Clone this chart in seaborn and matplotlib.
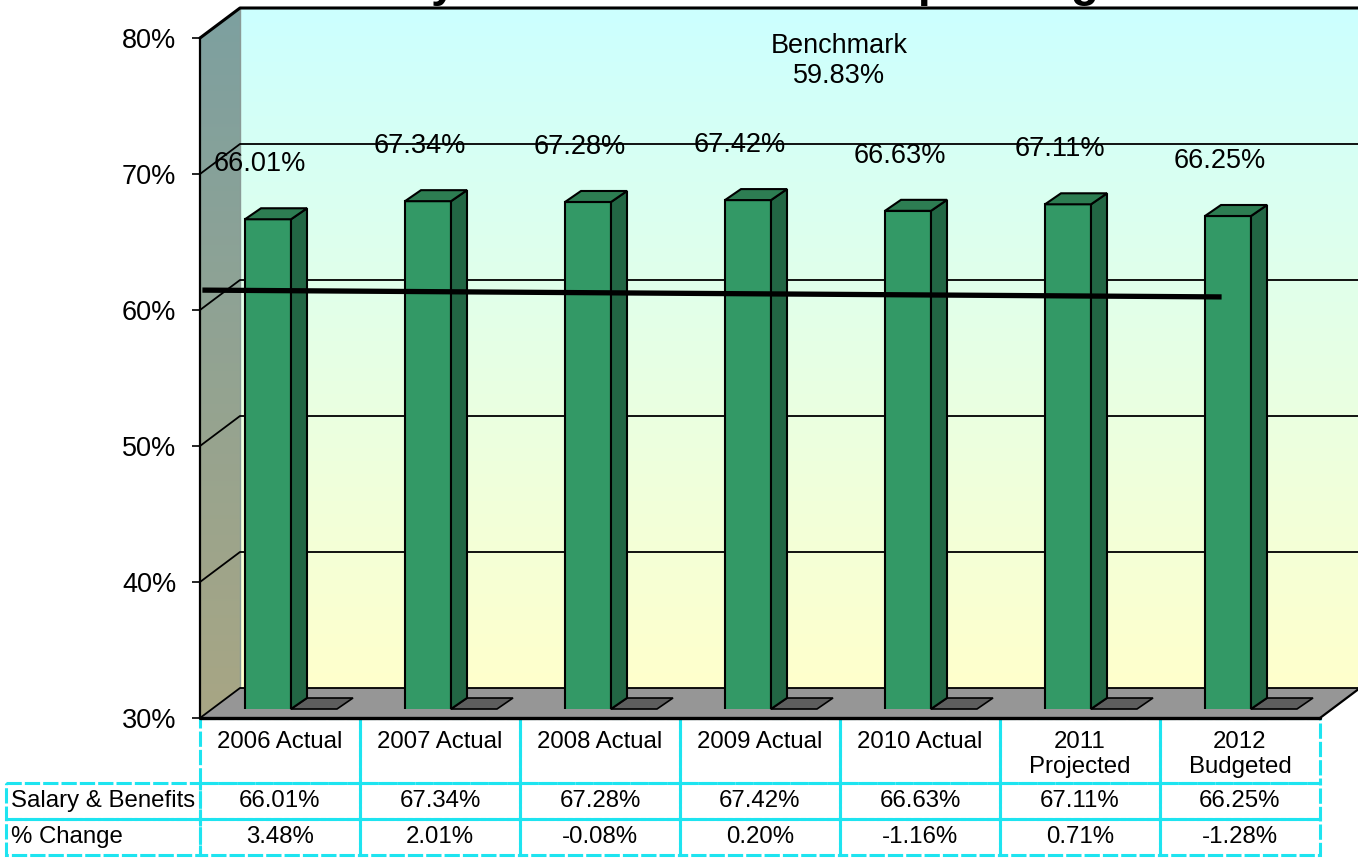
import numpy as np
import pandas as pd
import matplotlib
matplotlib.use("Agg")
import matplotlib.pyplot as plt
from matplotlib.patches import Polygon, Rectangle
import seaborn as sns

# data
categories = ["2006 Actual", "2007 Actual", "2008 Actual", "2009 Actual",
              "2010 Actual", "2011\nProjected", "2012\nBudgeted"]
salary_benefits = [66.01, 67.34, 67.28, 67.42, 66.63, 67.11, 66.25]
pct_change = [3.48, 2.01, -0.08, 0.20, -1.16, 0.71, -1.28]
benchmark = 59.83
trend_x = [-0.41, 5.96]
trend_y = [60.8, 60.3]
y_ticks = [30, 40, 50, 60, 70, 80]
title = "Salary & Benefits as % of Operating Revenue"

W, H = 1358, 858
sns.set_theme(style="white")
plt.rcParams["font.family"] = ["Liberation Sans", "DejaVu Sans"]
plt.rcParams["text.color"] = "black"
plt.rcParams["ytick.color"] = "black"
FS = 19.5      # chart text
FS_T = 17.3    # table text

fig = plt.figure(figsize=(W / 100, H / 100), dpi=100)


def px_axes(left, right, top, bottom):
    return fig.add_axes([left / W, 1 - bottom / H, (right - left) / W, (bottom - top) / H])


# front plane (value axis) and the plane the bars stand in
ax = px_axes(200, 1320, 38, 718)
axb = px_axes(188, 1308, 29, 709)
ax.set_zorder(0)
axb.set_zorder(1)

# depth of the back wall in data units (40px right, 30px up)
bx, by = 40 / 160, 30 / 13.6

# back wall gradient
t = np.linspace(0, 1, 256)[:, None]
top_c = np.array([204, 255, 255]) / 255
bot_c = np.array([255, 255, 204]) / 255
grad = top_c * (1 - t) + bot_c * t
ax.imshow(grad[:, None, :], extent=[-0.5 + bx, 6.5 + bx, 30 + by, 80 + by],
          aspect="auto", origin="upper", clip_on=False, zorder=0)

# left wall
wtop = np.array([125, 160, 160]) / 255
wbot = np.array([168, 166, 132]) / 255
wgrad = wtop * (1 - t) + wbot * t
wall = Polygon([(-0.5, 30), (-0.5, 80), (-0.5 + bx, 80 + by), (-0.5 + bx, 30 + by)],
               closed=True, fc="none", ec="none")
ax.add_patch(wall)
wim = ax.imshow(wgrad[:, None, :], extent=[-0.5, -0.5 + bx, 30, 80 + by],
                aspect="auto", origin="upper", zorder=0.5)
wim.set_clip_box(fig.bbox)
wim.set_clip_path(wall)
ax.plot([-0.5 + bx, -0.5 + bx], [30 + by, 80 + by], color="#8A9A96", lw=1,
        clip_on=False, zorder=0.6)

# floor
floor = Polygon([(-0.5, 30), (6.5, 30), (6.5 + bx, 30 + by), (-0.5 + bx, 30 + by)],
                closed=True, fc="#969696", ec="none", clip_on=False, zorder=1)
ax.add_patch(floor)

# gridlines on walls
for v in y_ticks:
    lw = 2.2 if v == 80 else 1.3
    ax.plot([-0.5, -0.5 + bx, 6.5 + bx], [v, v + by, v + by], color="black",
            lw=lw, clip_on=False, zorder=2)
ax.plot([-0.5, 6.5], [30, 30], color="black", lw=2.4, clip_on=False, zorder=2)
ax.plot([6.5, 6.5 + bx], [30, 30 + by], color="black", lw=1.6, clip_on=False, zorder=2)

ax.set_xlim(-0.5, 6.5)
ax.set_ylim(30, 80)
ax.patch.set_visible(False)
for s in ["top", "right", "bottom"]:
    ax.spines[s].set_visible(False)
ax.spines["left"].set_color("black")
ax.spines["left"].set_linewidth(1.6)
ax.spines["left"].set_zorder(3)
ax.set_xticks([])
ax.set_yticks(y_ticks)
ax.set_yticklabels([f"{v}%" for v in y_ticks])
ax.tick_params(axis="y", left=True, direction="out", length=6, width=1.2,
               color="black", pad=11, labelsize=FS, labelcolor="black")

ax.text(0.571, 0.966, f"Benchmark\n{benchmark:.2f}%", transform=ax.transAxes,
        ha="center", va="center", fontsize=FS, linespacing=1.2)

# bars
df = pd.DataFrame({"Category": categories, "Value": salary_benefits})
sns.barplot(data=df, x="Category", y="Value", color="#339966", saturation=1,
            edgecolor="black", linewidth=1.5, width=0.2875, errorbar=None,
            ax=axb, zorder=4)

dx, dy = 16 / 160, 11 / 13.6
for p in list(axb.patches):
    x0, w, top = p.get_x(), p.get_width(), p.get_height()
    axb.add_patch(Polygon([(x0 + w, 30), (x0 + 2 * w, 30), (x0 + 2 * w + dx, 30 + dy),
                           (x0 + w + dx, 30 + dy)], fc="#5E5E5E", ec="black",
                          lw=1.2, clip_on=False, zorder=2))
    axb.add_patch(Polygon([(x0 + w, 30), (x0 + w, top), (x0 + w + dx, top + dy),
                           (x0 + w + dx, 30 + dy)], fc="#226644", ec="black",
                          lw=1.5, clip_on=False, zorder=4))
    axb.add_patch(Polygon([(x0, top), (x0 + w, top), (x0 + w + dx, top + dy),
                           (x0 + dx, top + dy)], fc="#2D7D52", ec="black",
                          lw=1.5, clip_on=False, zorder=4))

for i, v in enumerate(salary_benefits):
    axb.annotate(f"{v:.2f}%", (i, v), xytext=(-8, 55), textcoords="offset pixels",
                 ha="center", va="center", fontsize=FS)

axb.plot(trend_x, trend_y, color="black", lw=3.8, solid_capstyle="butt",
         clip_on=False, zorder=6)
axb.set_xlim(-0.5, 6.5)
axb.set_ylim(30, 80)
axb.set_axis_off()

# data table under the chart
axt = fig.add_axes([0, 0, 1, 140 / H])
axt.set_zorder(-1)
axt.set_xlim(0, W)
axt.set_ylim(140, 0)
axt.set_axis_off()
col_edges = [200 + 160 * i for i in range(len(categories) + 1)]
row_edges = [0, 65, 101, 137]
cell_kw = dict(fill=False, ec="#1EE4F0", lw=2.2, ls=(0, (5, 1)))
rows = [("Salary & Benefits", salary_benefits), ("% Change", pct_change)]
for c, cat in enumerate(categories):
    cx = (col_edges[c] + col_edges[c + 1]) / 2
    axt.add_patch(Rectangle((col_edges[c], row_edges[0]), 160, row_edges[1] - row_edges[0], **cell_kw))
    axt.text(cx, 13, cat, ha="center", va="top", fontsize=FS_T, linespacing=1.15)
for r, (label, vals) in enumerate(rows, start=1):
    y0, y1 = row_edges[r], row_edges[r + 1]
    axt.add_patch(Rectangle((6, y0), 194, y1 - y0, **cell_kw))
    axt.text(11, (y0 + y1) / 2, label, ha="left", va="center", fontsize=FS_T)
    for c, v in enumerate(vals):
        axt.add_patch(Rectangle((col_edges[c], y0), 160, y1 - y0, **cell_kw))
        axt.text((col_edges[c] + col_edges[c + 1]) / 2, (y0 + y1) / 2, f"{v:.2f}%",
                 ha="center", va="center", fontsize=FS_T)

# title sits mostly above the visible area
fig.text(0.597, 1 + 4 / H, title, ha="center", va="baseline", fontsize=33,
         fontweight="bold")

fig.savefig("out.png", dpi=100)
